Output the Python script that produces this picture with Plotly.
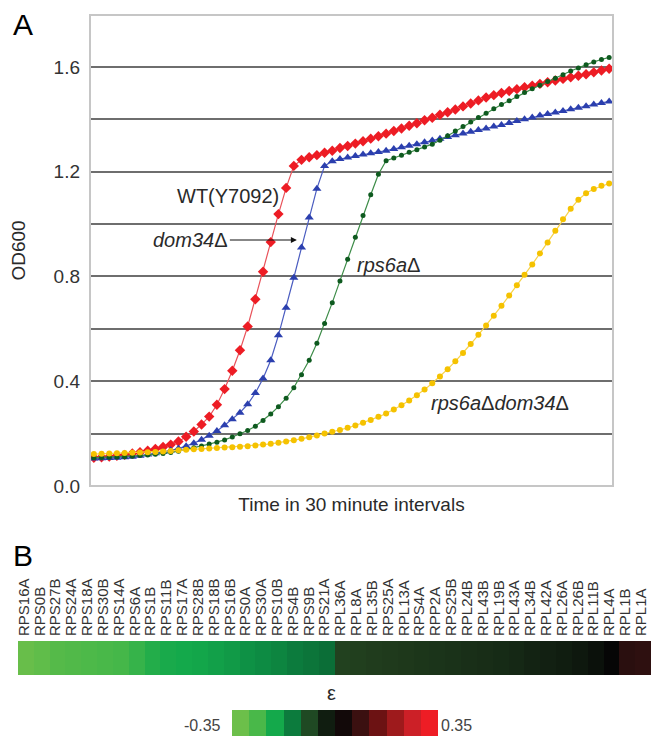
import plotly.graph_objects as go

W, H = 653, 736

# ---------------- Panel A data (OD600 per 30-minute interval) ----------------
time_idx = list(range(68))

wt_y7092 = [0.108, 0.110, 0.112, 0.115, 0.119, 0.124, 0.129, 0.135, 0.141, 0.149,
            0.158, 0.170, 0.188, 0.208, 0.235, 0.265, 0.310, 0.370, 0.440, 0.518,
            0.609, 0.713, 0.818, 0.931, 1.038, 1.138, 1.222, 1.245, 1.255, 1.263,
            1.272, 1.280, 1.290, 1.298, 1.307, 1.316, 1.326, 1.335, 1.345, 1.355,
            1.365, 1.375, 1.385, 1.396, 1.406, 1.417, 1.427, 1.437, 1.449, 1.460,
            1.472, 1.483, 1.492, 1.500, 1.508, 1.515, 1.522, 1.528, 1.535, 1.541,
            1.548, 1.554, 1.560, 1.566, 1.572, 1.579, 1.586, 1.593]

dom34 = [0.105, 0.106, 0.107, 0.108, 0.110, 0.112, 0.115, 0.120, 0.125, 0.130,
         0.136, 0.143, 0.152, 0.163, 0.177, 0.192, 0.210, 0.232, 0.255, 0.280,
         0.312, 0.355, 0.410, 0.480, 0.575, 0.680, 0.795, 0.910, 1.025, 1.135,
         1.222, 1.240, 1.248, 1.254, 1.260, 1.265, 1.270, 1.275, 1.280, 1.286,
         1.293, 1.299, 1.305, 1.312, 1.319, 1.326, 1.332, 1.339, 1.346, 1.352,
         1.359, 1.365, 1.372, 1.378, 1.386, 1.393, 1.400, 1.407, 1.414, 1.420,
         1.426, 1.432, 1.438, 1.444, 1.450, 1.456, 1.462, 1.468]

rps6a = [0.108, 0.109, 0.110, 0.111, 0.112, 0.114, 0.116, 0.118, 0.121, 0.124,
         0.128, 0.133, 0.139, 0.146, 0.153, 0.160, 0.167, 0.176, 0.187, 0.199,
         0.212, 0.228, 0.250, 0.275, 0.303, 0.335, 0.375, 0.425, 0.480, 0.545,
         0.620, 0.700, 0.783, 0.866, 0.950, 1.033, 1.112, 1.190, 1.242, 1.252,
         1.263, 1.274, 1.284, 1.294, 1.305, 1.320, 1.337, 1.355, 1.372, 1.390,
         1.407, 1.423, 1.440, 1.456, 1.471, 1.487, 1.502, 1.516, 1.530, 1.544,
         1.557, 1.570, 1.584, 1.596, 1.608, 1.619, 1.628, 1.636]

rps6a_dom34 = [0.122, 0.123, 0.124, 0.125, 0.126, 0.127, 0.128, 0.129, 0.130, 0.132,
               0.134, 0.136, 0.138, 0.140, 0.141, 0.143, 0.145, 0.147, 0.148, 0.150,
               0.152, 0.155, 0.158, 0.161, 0.165, 0.170, 0.175, 0.180, 0.186, 0.193,
               0.200, 0.207, 0.214, 0.222, 0.231, 0.241, 0.252, 0.264, 0.277, 0.292,
               0.308, 0.326, 0.346, 0.368, 0.392, 0.418, 0.446, 0.476, 0.508, 0.542,
               0.577, 0.613, 0.650, 0.688, 0.727, 0.766, 0.806, 0.846, 0.888, 0.930,
               0.974, 1.018, 1.058, 1.093, 1.118, 1.134, 1.146, 1.155]

y_ticks = [0.0, 0.4, 0.8, 1.2, 1.6]

# ---------------- Panel B data (epsilon per gene) ----------------
genes = ["RPS16A", "RPS0B", "RPS27B", "RPS24A", "RPS18A", "RPS30B", "RPS14A", "RPS6A",
         "RPS1B", "RPS11B", "RPS17A", "RPS28B", "RPS18B", "RPS16B", "RPS0A", "RPS30A",
         "RPS10B", "RPS4B", "RPS9B", "RPS21A", "RPL36A", "RPL8A", "RPL35B", "RPS25A",
         "RPL13A", "RPS4A", "RPP2A", "RPS25B", "RPL24B", "RPL43B", "RPL19B", "RPL43A",
         "RPL34B", "RPL42A", "RPL26A", "RPL26B", "RPL11B", "RPL4A", "RPL1B", "RPL1A"]
epsilon = [-0.345, -0.335, -0.320, -0.315, -0.310, -0.305, -0.300, -0.285,
           -0.265, -0.255, -0.250, -0.245, -0.235, -0.225, -0.210, -0.200,
           -0.190, -0.175, -0.165, -0.155, -0.117, -0.112, -0.107, -0.102,
           -0.097, -0.092, -0.087, -0.082, -0.077, -0.072, -0.066, -0.060,
           -0.052, -0.046, -0.040, -0.031, -0.020, 0.000, 0.045, 0.050]
scale_steps = [-0.35, -0.305, -0.25, -0.175, -0.125, -0.04, 0.015, 0.07, 0.14, 0.2, 0.28, 0.35]
eps_min, eps_max = -0.35, 0.35

stops = [(-0.35, "#6cbf4a"), (-0.30, "#45b749"), (-0.25, "#14a94b"), (-0.20, "#0d8b43"),
         (-0.15, "#0b6b36"), (-0.12, "#23421f"), (-0.06, "#152815"), (0.0, "#060606"),
         (0.05, "#2e1010"), (0.12, "#5c1010"), (0.20, "#9e1a1c"), (0.28, "#cc2027"),
         (0.35, "#ee1d25")]
colorscale = [[(v - eps_min) / (eps_max - eps_min), c] for v, c in stops]

FONT = "Liberation Sans, Arial, sans-serif"
TXT = "#2a2a2a"

def fx(p):
    return p / W

def fy(p):
    return 1 - p / H

fig = go.Figure()

series = [
    (wt_y7092, "WT(Y7092)", "#ed1c24", "#e8525a", "diamond", 8),
    (dom34, "dom34Δ", "#2b3fae", "#4a5cc0", "triangle-up", 8),
    (rps6a, "rps6aΔ", "#0e5a1f", "#3d8c48", "circle", 5),
    (rps6a_dom34, "rps6aΔdom34Δ", "#f5c200", "#f7d24a", "circle", 6),
]
for ys, name, mc, lc, sym, sz in series:
    fig.add_trace(go.Scatter(
        x=time_idx, y=ys, name=name, mode="lines+markers",
        line=dict(color=lc, width=1.2),
        marker=dict(symbol=sym, size=sz, color=mc, line=dict(width=0)),
        xaxis="x", yaxis="y", showlegend=False,
    ))

fig.add_trace(go.Heatmap(
    z=[epsilon], x=genes, y=["ε"], colorscale=colorscale,
    zmin=eps_min, zmax=eps_max, showscale=False, xaxis="x2", yaxis="y2",
))
fig.add_trace(go.Heatmap(
    z=[scale_steps], x=list(range(len(scale_steps))), y=[0], colorscale=colorscale,
    zmin=eps_min, zmax=eps_max, showscale=False, xaxis="x3", yaxis="y3",
))

grid_c = "#6e6e6e"
fig.update_layout(
    width=W, height=H,
    margin=dict(l=0, r=0, t=0, b=0, pad=0, autoexpand=False),
    paper_bgcolor="white", plot_bgcolor="white",
    font=dict(family=FONT, color=TXT),
    xaxis=dict(domain=[fx(90), fx(613)], range=[-0.5, 67.5], showticklabels=False,
               showgrid=False, zeroline=False, ticks="", automargin=False,
               title=dict(text="Time in 30 minute intervals", font=dict(size=19, color=TXT),
                          standoff=11)),
    yaxis=dict(domain=[fy(486), fy(15)], range=[0, 1.798], tickmode="array",
               tickvals=y_ticks, ticktext=[f"{v:.1f}" for v in y_ticks],
               tickfont=dict(size=19, color="#333"), ticks="", ticklabelstandoff=9,
               showgrid=True, gridcolor=grid_c, gridwidth=1.6, zeroline=False,
               automargin=False,
               minor=dict(tickvals=[0.2, 0.6, 1.0, 1.4], showgrid=True,
                          gridcolor=grid_c, gridwidth=1.6),
               title=dict(text="OD600", font=dict(size=19, color=TXT), standoff=22)),
    xaxis2=dict(domain=[fx(18), fx(651)], side="top", anchor="y2", tickangle=-90,
                tickmode="array", tickvals=genes, ticktext=genes,
                tickfont=dict(size=15, color="#333"), ticks="", ticklabelstandoff=4,
                ticklabelshift=-2, showgrid=False, zeroline=False, automargin=False),
    yaxis2=dict(domain=[fy(675), fy(641)], anchor="x2", showticklabels=False,
                showgrid=False, zeroline=False, automargin=False),
    xaxis3=dict(domain=[fx(232), fx(438)], anchor="y3", showticklabels=False,
                showgrid=False, zeroline=False, automargin=False),
    yaxis3=dict(domain=[0, fy(710)], anchor="x3", showticklabels=False,
                showgrid=False, zeroline=False, automargin=False),
)

# light grey frame of panel A
fig.add_shape(type="rect", xref="x domain", yref="y domain", x0=0, x1=1, y0=0, y1=1,
              line=dict(color="#c6c6c6", width=2), layer="above")

ann_font = dict(size=20, color=TXT)
fig.add_annotation(x=24.3, y=1.107, xref="x", yref="y", text="WT(Y7092)",
                   showarrow=False, xanchor="right", yanchor="middle", font=ann_font)
fig.add_annotation(x=26.4, y=0.939, xref="x", yref="y", text="<i>dom34</i>Δ",
                   showarrow=True, ax=-106, ay=0, arrowhead=2, arrowsize=1,
                   arrowwidth=1.2, arrowcolor="#111", standoff=0, font=ann_font)
fig.add_annotation(x=33.9, y=0.843, xref="x", yref="y", text="<i>rps6a</i>Δ",
                   showarrow=False, xanchor="left", yanchor="middle", font=ann_font)
fig.add_annotation(x=43.6, y=0.317, xref="x", yref="y", text="<i>rps6a</i>Δ<i>dom34</i>Δ",
                   showarrow=False, xanchor="left", yanchor="middle", font=ann_font)

fig.add_annotation(x=fx(11), y=fy(24), xref="paper", yref="paper", text="A",
                   showarrow=False, xanchor="left", yanchor="middle",
                   font=dict(size=30, color="#000"))
fig.add_annotation(x=fx(11), y=fy(555), xref="paper", yref="paper", text="B",
                   showarrow=False, xanchor="left", yanchor="middle",
                   font=dict(size=30, color="#000"))
fig.add_annotation(x=fx(331), y=fy(693), xref="paper", yref="paper", text="ε",
                   showarrow=False, xanchor="center", yanchor="middle",
                   font=dict(size=20, color=TXT))
fig.add_annotation(x=fx(223), y=fy(725), xref="paper", yref="paper", text=f"{eps_min:.2f}",
                   showarrow=False, xanchor="right", yanchor="middle",
                   font=dict(size=16, color="#444"))
fig.add_annotation(x=fx(439), y=fy(725), xref="paper", yref="paper", text=f"{eps_max:.2f}",
                   showarrow=False, xanchor="left", yanchor="middle",
                   font=dict(size=16, color="#444"))

fig.write_html(
    "out.html",
    config={"displayModeBar": False},
    post_script=(
        "document.body.style.margin='0px';"
        "document.documentElement.style.overflow='hidden';"
        "var d=document.getElementById('{plot_id}');"
        "d.style.position='fixed';d.style.left='0px';d.style.top='0px';"
    ),
)
